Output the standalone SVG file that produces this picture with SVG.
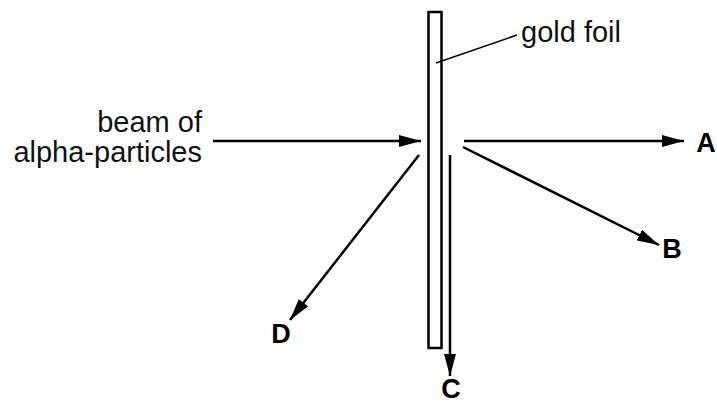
<svg xmlns="http://www.w3.org/2000/svg" width="717" height="403" viewBox="0 0 717 403">
<defs>
<marker id="ah" markerWidth="24" markerHeight="12" refX="22" refY="6" orient="auto" markerUnits="userSpaceOnUse">
<path d="M0,0 L22,6 L0,12 Z" fill="#000"/>
</marker>
<style>
.ln{stroke:#000;stroke-width:2.5;fill:none}
.lbl{font-family:"Liberation Sans",Arial,sans-serif;font-size:29px;fill:#111}
.big{font-family:"Liberation Sans",Arial,sans-serif;font-size:27px;font-weight:bold;fill:#000;text-anchor:middle}
</style>
</defs>
<rect width="717" height="403" fill="#fff"/>
<g id="foil">
<rect x="428.5" y="12" width="13" height="336" fill="#fff" stroke="#000" stroke-width="2.5"/>
</g>
<g id="connectors">
<line class="ln" x1="213" y1="141" x2="421" y2="141" marker-end="url(#ah)"/>
<line class="ln" x1="464" y1="141" x2="684" y2="141" marker-end="url(#ah)"/>
<line class="ln" x1="463" y1="147" x2="659" y2="245" marker-end="url(#ah)"/>
<line class="ln" x1="450" y1="155" x2="450" y2="376" marker-end="url(#ah)"/>
<line class="ln" x1="419" y1="155" x2="290" y2="320" marker-end="url(#ah)"/>
<line x1="436" y1="63" x2="517" y2="35" stroke="#000" stroke-width="1.5"/>
</g>
<g id="label-gold-foil"><text class="lbl" x="521" y="42">gold foil</text></g>
<g id="label-beam">
<text class="lbl" x="202" y="132" text-anchor="end">beam of</text>
<text class="lbl" x="202" y="162" text-anchor="end">alpha-particles</text>
</g>
<g id="label-A"><text class="big" x="706" y="152">A</text></g>
<g id="label-B"><text class="big" x="672" y="258">B</text></g>
<g id="label-C"><text class="big" x="451" y="398">C</text></g>
<g id="label-D"><text class="big" x="281" y="343">D</text></g>
</svg>
